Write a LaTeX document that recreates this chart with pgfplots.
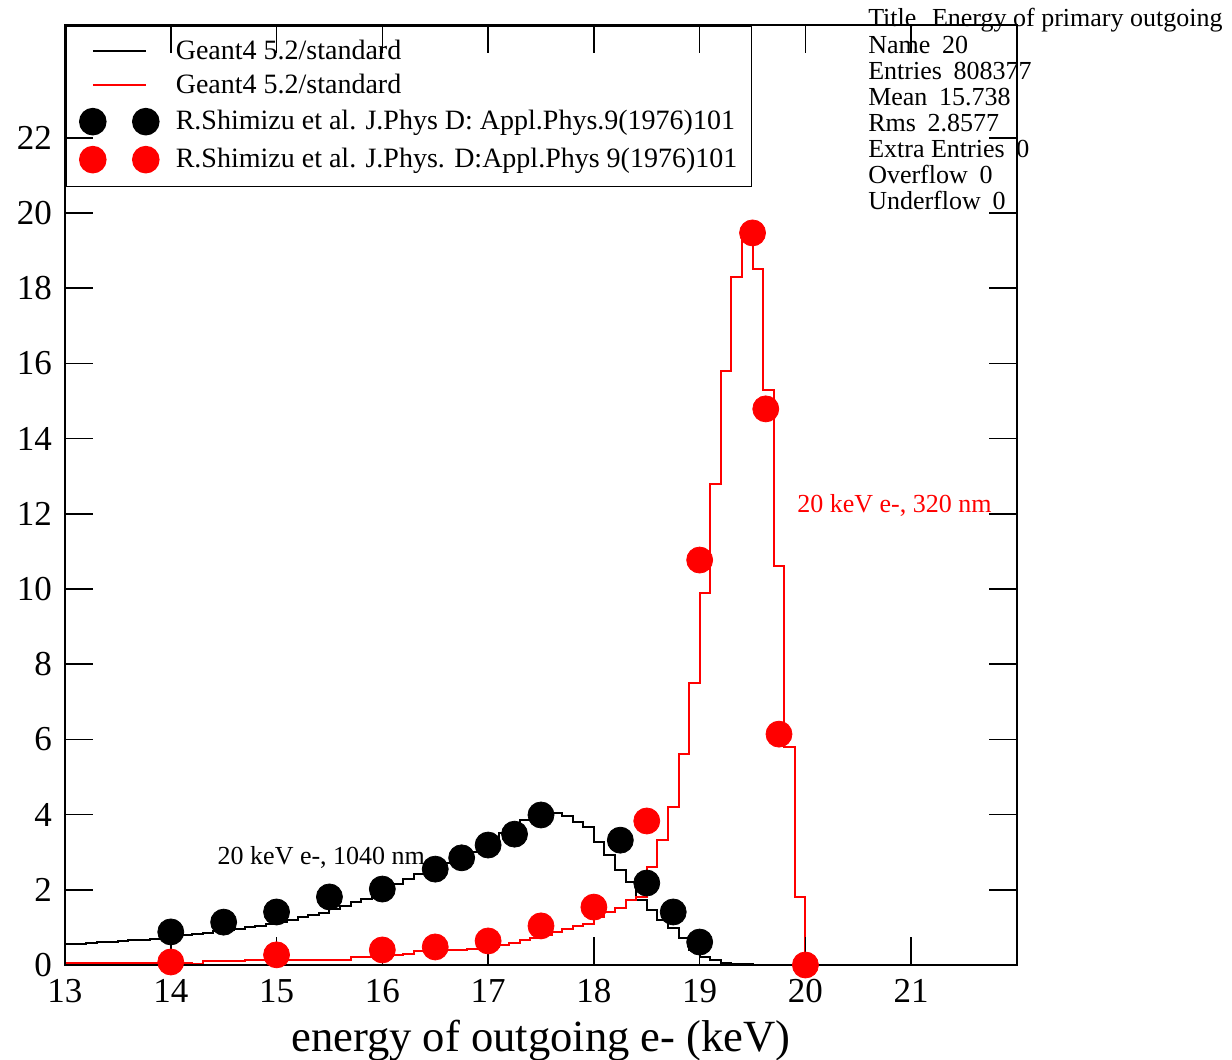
\documentclass[border=0pt]{standalone}
\usepackage{fontspec}
\setmainfont{Liberation Serif}
\usepackage{pgfplots}
\pgfplotsset{compat=1.18}
\usepackage{pgfplotstable}

\pgfplotsset{
  linelegend/.style={legend image code/.code={\draw[##1] (0pt,0pt) -- (26.5pt,0pt);}},
  marklegend/.style={legend image code/.code={\draw[##1, only marks] plot coordinates {(0pt,0pt) (26.5pt,0pt)};}},
}

% Geant4 histogram, 20 keV e-, 1040 nm (bin start, content)
\pgfplotstableread{
x y
13.0 0.56
13.1 0.56
13.2 0.58
13.3 0.60
13.4 0.60
13.5 0.63
13.6 0.66
13.7 0.66
13.8 0.70
13.9 0.72
14.0 0.76
14.1 0.80
14.2 0.83
14.3 0.86
14.4 0.90
14.5 0.93
14.6 0.97
14.7 1.00
14.8 1.05
14.9 1.10
15.0 1.15
15.1 1.21
15.2 1.27
15.3 1.33
15.4 1.38
15.5 1.50
15.6 1.58
15.7 1.67
15.8 1.75
15.9 1.82
16.0 1.95
16.1 2.15
16.2 2.30
16.3 2.42
16.4 2.50
16.5 2.60
16.6 2.70
16.7 2.85
16.8 3.00
16.9 3.10
17.0 3.30
17.1 3.50
17.2 3.70
17.3 3.86
17.4 3.94
17.5 4.04
17.6 4.04
17.7 3.95
17.8 3.80
17.9 3.67
18.0 3.27
18.1 2.93
18.2 2.53
18.3 2.20
18.4 1.73
18.5 1.45
18.6 1.20
18.7 0.98
18.8 0.72
18.9 0.40
19.0 0.21
19.1 0.12
19.2 0.05
19.3 0.03
19.4 0.02
19.5 0.00
}\histblack

% Geant4 histogram, 20 keV e-, 320 nm
\pgfplotstableread{
x y
13.0 0.05
13.1 0.05
13.2 0.05
13.3 0.05
13.4 0.05
13.5 0.05
13.6 0.05
13.7 0.05
13.8 0.05
13.9 0.05
14.0 0.05
14.1 0.05
14.2 0.02
14.3 0.10
14.4 0.10
14.5 0.10
14.6 0.10
14.7 0.12
14.8 0.12
14.9 0.12
15.0 0.12
15.1 0.12
15.2 0.13
15.3 0.13
15.4 0.13
15.5 0.13
15.6 0.13
15.7 0.20
15.8 0.20
15.9 0.22
16.0 0.25
16.1 0.27
16.2 0.30
16.3 0.37
16.4 0.40
16.5 0.40
16.6 0.40
16.7 0.40
16.8 0.42
16.9 0.45
17.0 0.47
17.1 0.53
17.2 0.58
17.3 0.66
17.4 0.72
17.5 0.80
17.6 0.88
17.7 0.95
17.8 1.04
17.9 1.10
18.0 1.28
18.1 1.40
18.2 1.52
18.3 1.73
18.4 1.80
18.5 2.60
18.6 3.32
18.7 4.20
18.8 5.60
18.9 7.50
19.0 9.90
19.1 12.80
19.2 15.80
19.3 18.30
19.4 19.60
19.5 18.50
19.6 15.30
19.7 10.60
19.8 5.80
19.9 1.80
20.0 0.00
}\histred

\pgfplotstableread{
x y
14.00 0.88
14.50 1.14
15.00 1.41
15.50 1.81
16.00 2.02
16.50 2.55
16.75 2.85
17.00 3.19
17.25 3.48
17.50 3.99
18.25 3.32
18.50 2.18
18.75 1.41
19.00 0.61
}\datablack

\pgfplotstableread{
x y
14.000 0.08
15.000 0.27
16.000 0.40
16.500 0.48
17.000 0.64
17.500 1.04
18.000 1.54
18.500 3.83
19.000 10.77
19.500 19.47
19.625 14.79
19.750 6.14
20.000 0.00
}\datared

\newcommand{\statfont}{\fontsize{13}{13}\selectfont}
\newcommand{\gap}{\hspace{0.45em}}

\begin{document}
\begin{tikzpicture}
\begin{axis}[
  name=ax, at={(0,0)}, anchor=south west,
  width=476pt, height=470pt, scale only axis,
  xmin=13, xmax=22, ymin=0, ymax=25,
  xtick={13,14,...,21}, ytick={0,2,...,22},
  minor tick num=0,
  tick align=inside, major tick length=14pt,
  tick style={black, line width=0.8pt},
  axis line style={line width=1pt},
  /pgf/number format/assume math mode=true,
  ticklabel style={font=\fontsize{17.5}{20}\selectfont},
  xticklabel style={yshift=-3.5pt},
  yticklabel style={xshift=-3pt},
  xlabel={energy of outgoing e- (keV)},
  xlabel style={font=\fontsize{22.3}{24}\selectfont, yshift=-2pt},
  clip=false, axis on top,
  legend cell align=left,
  legend style={at={(0,1)}, anchor=north west, draw=black, line width=0.8pt,
    fill=none, font=\fontsize{14}{16}\selectfont,
    inner xsep=7pt, inner ysep=7pt, row sep=6pt, column sep=8.5pt,
    nodes={inner sep=0pt}},
]
\addplot[const plot, black, line width=1pt, linelegend]
  table[x=x,y=y] {\histblack};
\addlegendentry{Geant4 5.2/standard}
\addplot[const plot, red, line width=1pt, linelegend]
  table[x=x,y=y] {\histred};
\addlegendentry{Geant4 5.2/standard}
\addplot[only marks, mark=*, mark size=6.5pt, black, mark options={fill=black}, marklegend]
  table[x=x,y=y] {\datablack};
\addlegendentry{R.Shimizu et al. J.Phys D: Appl.Phys.9(1976)101}
\addplot[only marks, mark=*, mark size=6.5pt, red, mark options={fill=red}, marklegend]
  table[x=x,y=y] {\datared};
\addlegendentry{R.Shimizu et al. J.Phys. D:Appl.Phys 9(1976)101}

\node[anchor=west, inner sep=0pt, font=\statfont] at (axis cs:14.44,2.87) {20 keV e-, 1040 nm};
\node[anchor=west, inner sep=0pt, font=\statfont, text=red] at (axis cs:19.92,12.23) {20 keV e-, 320 nm};

\node[anchor=base west, inner sep=0pt, font=\statfont] at (axis cs:20.59,24.95) {Title\hspace{0.6em}Energy of primary outgoing};
\node[anchor=base west, inner sep=0pt, font=\statfont] at (axis cs:20.59,24.24) {Name\gap 20};
\node[anchor=base west, inner sep=0pt, font=\statfont] at (axis cs:20.59,23.55) {Entries\gap 808377};
\node[anchor=base west, inner sep=0pt, font=\statfont] at (axis cs:20.59,22.86) {Mean\gap 15.738};
\node[anchor=base west, inner sep=0pt, font=\statfont] at (axis cs:20.59,22.17) {Rms\gap 2.8577};
\node[anchor=base west, inner sep=0pt, font=\statfont] at (axis cs:20.59,21.48) {Extra Entries\gap 0};
\node[anchor=base west, inner sep=0pt, font=\statfont] at (axis cs:20.59,20.79) {Overflow\gap 0};
\node[anchor=base west, inner sep=0pt, font=\statfont] at (axis cs:20.59,20.10) {Underflow\gap 0};
\end{axis}
\pgfresetboundingbox
\path[use as bounding box] ([shift={(-32.5pt,-47.5pt)}]ax.south west) rectangle ([shift={(107.5pt,12.5pt)}]ax.north east);
\end{tikzpicture}
\end{document}
